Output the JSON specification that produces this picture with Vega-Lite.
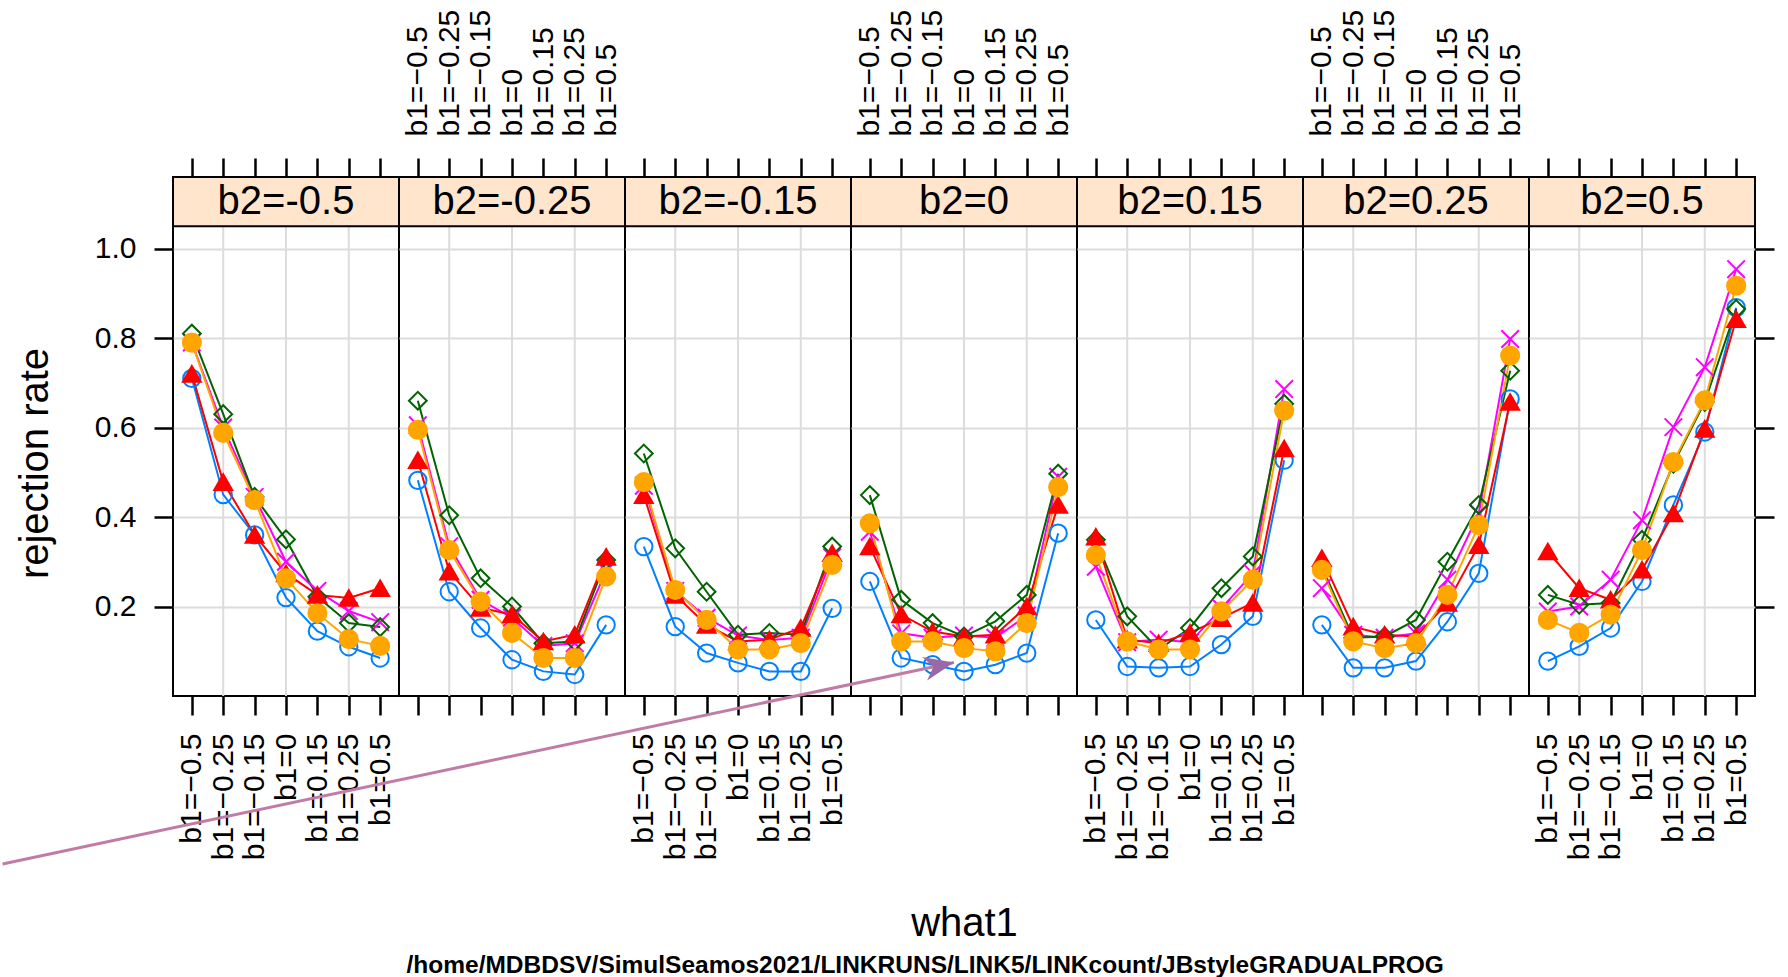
{
"$schema": "https://vega.github.io/schema/vega-lite/v6.json",
"padding": {"left": 0, "top": 8, "right": 0, "bottom": 0},
"bounds": "flush",
"spacing": 0,
"title": {"text": "/home/MDBDSV/SimulSeamos2021/LINKRUNS/LINK5/LINKcount/JBstyleGRADUALPROG", "orient": "bottom", "anchor": "middle", "dx": 37, "offset": 10, "fontSize": 24.5, "fontWeight": "bold", "font": "Liberation Sans", "color": "black"},
"config": {"view": {"stroke": "black", "strokeWidth": 2}, "font": "Liberation Sans", "axis": {"labelFont": "Liberation Sans", "titleFont": "Liberation Sans", "labelColor": "black", "titleColor": "black", "titleFontWeight": "normal"}, "concat": {"spacing": 0}},
"datasets": {
"grid": [{"b1": "b1=-0.25"}, {"b1": "b1=0"}, {"b1": "b1=0.25"}],
"rates": [
{"b2":"b2=-0.5","b1":"b1=-0.5","s":"1","r":0.71},{"b2":"b2=-0.5","b1":"b1=-0.25","s":"1","r":0.45},{"b2":"b2=-0.5","b1":"b1=-0.15","s":"1","r":0.36},{"b2":"b2=-0.5","b1":"b1=0","s":"1","r":0.22},{"b2":"b2=-0.5","b1":"b1=0.15","s":"1","r":0.145},{"b2":"b2=-0.5","b1":"b1=0.25","s":"1","r":0.11},{"b2":"b2=-0.5","b1":"b1=0.5","s":"1","r":0.085},
{"b2":"b2=-0.5","b1":"b1=-0.5","s":"2","r":0.79},{"b2":"b2=-0.5","b1":"b1=-0.25","s":"2","r":0.60},{"b2":"b2=-0.5","b1":"b1=-0.15","s":"2","r":0.445},{"b2":"b2=-0.5","b1":"b1=0","s":"2","r":0.30},{"b2":"b2=-0.5","b1":"b1=0.15","s":"2","r":0.235},{"b2":"b2=-0.5","b1":"b1=0.25","s":"2","r":0.19},{"b2":"b2=-0.5","b1":"b1=0.5","s":"2","r":0.165},
{"b2":"b2=-0.5","b1":"b1=-0.5","s":"3","r":0.81},{"b2":"b2=-0.5","b1":"b1=-0.25","s":"3","r":0.63},{"b2":"b2=-0.5","b1":"b1=-0.15","s":"3","r":0.445},{"b2":"b2=-0.5","b1":"b1=0","s":"3","r":0.35},{"b2":"b2=-0.5","b1":"b1=0.15","s":"3","r":0.222},{"b2":"b2=-0.5","b1":"b1=0.25","s":"3","r":0.163},{"b2":"b2=-0.5","b1":"b1=0.5","s":"3","r":0.154},
{"b2":"b2=-0.5","b1":"b1=-0.5","s":"4","r":0.72},{"b2":"b2=-0.5","b1":"b1=-0.25","s":"4","r":0.478},{"b2":"b2=-0.5","b1":"b1=-0.15","s":"4","r":0.36},{"b2":"b2=-0.5","b1":"b1=0","s":"4","r":0.274},{"b2":"b2=-0.5","b1":"b1=0.15","s":"4","r":0.226},{"b2":"b2=-0.5","b1":"b1=0.25","s":"4","r":0.219},{"b2":"b2=-0.5","b1":"b1=0.5","s":"4","r":0.241},
{"b2":"b2=-0.5","b1":"b1=-0.5","s":"5","r":0.79},{"b2":"b2=-0.5","b1":"b1=-0.25","s":"5","r":0.588},{"b2":"b2=-0.5","b1":"b1=-0.15","s":"5","r":0.438},{"b2":"b2=-0.5","b1":"b1=0","s":"5","r":0.263},{"b2":"b2=-0.5","b1":"b1=0.15","s":"5","r":0.185},{"b2":"b2=-0.5","b1":"b1=0.25","s":"5","r":0.127},{"b2":"b2=-0.5","b1":"b1=0.5","s":"5","r":0.112},

{"b2":"b2=-0.25","b1":"b1=-0.5","s":"1","r":0.482},{"b2":"b2=-0.25","b1":"b1=-0.25","s":"1","r":0.233},{"b2":"b2=-0.25","b1":"b1=-0.15","s":"1","r":0.152},{"b2":"b2=-0.25","b1":"b1=0","s":"1","r":0.081},{"b2":"b2=-0.25","b1":"b1=0.15","s":"1","r":0.055},{"b2":"b2=-0.25","b1":"b1=0.25","s":"1","r":0.048},{"b2":"b2=-0.25","b1":"b1=0.5","s":"1","r":0.159},
{"b2":"b2=-0.25","b1":"b1=-0.5","s":"2","r":0.605},{"b2":"b2=-0.25","b1":"b1=-0.25","s":"2","r":0.335},{"b2":"b2=-0.25","b1":"b1=-0.15","s":"2","r":0.215},{"b2":"b2=-0.25","b1":"b1=0","s":"2","r":0.175},{"b2":"b2=-0.25","b1":"b1=0.15","s":"2","r":0.112},{"b2":"b2=-0.25","b1":"b1=0.25","s":"2","r":0.118},{"b2":"b2=-0.25","b1":"b1=0.5","s":"2","r":0.28},
{"b2":"b2=-0.25","b1":"b1=-0.5","s":"3","r":0.66},{"b2":"b2=-0.25","b1":"b1=-0.25","s":"3","r":0.404},{"b2":"b2=-0.25","b1":"b1=-0.15","s":"3","r":0.263},{"b2":"b2=-0.25","b1":"b1=0","s":"3","r":0.20},{"b2":"b2=-0.25","b1":"b1=0.15","s":"3","r":0.118},{"b2":"b2=-0.25","b1":"b1=0.25","s":"3","r":0.122},{"b2":"b2=-0.25","b1":"b1=0.5","s":"3","r":0.304},
{"b2":"b2=-0.25","b1":"b1=-0.5","s":"4","r":0.527},{"b2":"b2=-0.25","b1":"b1=-0.25","s":"4","r":0.278},{"b2":"b2=-0.25","b1":"b1=-0.15","s":"4","r":0.197},{"b2":"b2=-0.25","b1":"b1=0","s":"4","r":0.182},{"b2":"b2=-0.25","b1":"b1=0.15","s":"4","r":0.122},{"b2":"b2=-0.25","b1":"b1=0.25","s":"4","r":0.137},{"b2":"b2=-0.25","b1":"b1=0.5","s":"4","r":0.311},
{"b2":"b2=-0.25","b1":"b1=-0.5","s":"5","r":0.595},{"b2":"b2=-0.25","b1":"b1=-0.25","s":"5","r":0.326},{"b2":"b2=-0.25","b1":"b1=-0.15","s":"5","r":0.211},{"b2":"b2=-0.25","b1":"b1=0","s":"5","r":0.141},{"b2":"b2=-0.25","b1":"b1=0.15","s":"5","r":0.085},{"b2":"b2=-0.25","b1":"b1=0.25","s":"5","r":0.085},{"b2":"b2=-0.25","b1":"b1=0.5","s":"5","r":0.267},

{"b2":"b2=-0.15","b1":"b1=-0.5","s":"1","r":0.334},{"b2":"b2=-0.15","b1":"b1=-0.25","s":"1","r":0.155},{"b2":"b2=-0.15","b1":"b1=-0.15","s":"1","r":0.096},{"b2":"b2=-0.15","b1":"b1=0","s":"1","r":0.074},{"b2":"b2=-0.15","b1":"b1=0.15","s":"1","r":0.055},{"b2":"b2=-0.15","b1":"b1=0.25","s":"1","r":0.055},{"b2":"b2=-0.15","b1":"b1=0.5","s":"1","r":0.196},
{"b2":"b2=-0.15","b1":"b1=-0.5","s":"2","r":0.47},{"b2":"b2=-0.15","b1":"b1=-0.25","s":"2","r":0.235},{"b2":"b2=-0.15","b1":"b1=-0.15","s":"2","r":0.175},{"b2":"b2=-0.15","b1":"b1=0","s":"2","r":0.135},{"b2":"b2=-0.15","b1":"b1=0.15","s":"2","r":0.125},{"b2":"b2=-0.15","b1":"b1=0.25","s":"2","r":0.13},{"b2":"b2=-0.15","b1":"b1=0.5","s":"2","r":0.31},
{"b2":"b2=-0.15","b1":"b1=-0.5","s":"3","r":0.542},{"b2":"b2=-0.15","b1":"b1=-0.25","s":"3","r":0.33},{"b2":"b2=-0.15","b1":"b1=-0.15","s":"3","r":0.233},{"b2":"b2=-0.15","b1":"b1=0","s":"3","r":0.137},{"b2":"b2=-0.15","b1":"b1=0.15","s":"3","r":0.141},{"b2":"b2=-0.15","b1":"b1=0.25","s":"3","r":0.137},{"b2":"b2=-0.15","b1":"b1=0.5","s":"3","r":0.334},
{"b2":"b2=-0.15","b1":"b1=-0.5","s":"4","r":0.449},{"b2":"b2=-0.15","b1":"b1=-0.25","s":"4","r":0.226},{"b2":"b2=-0.15","b1":"b1=-0.15","s":"4","r":0.159},{"b2":"b2=-0.15","b1":"b1=0","s":"4","r":0.122},{"b2":"b2=-0.15","b1":"b1=0.15","s":"4","r":0.126},{"b2":"b2=-0.15","b1":"b1=0.25","s":"4","r":0.152},{"b2":"b2=-0.15","b1":"b1=0.5","s":"4","r":0.319},
{"b2":"b2=-0.15","b1":"b1=-0.5","s":"5","r":0.478},{"b2":"b2=-0.15","b1":"b1=-0.25","s":"5","r":0.237},{"b2":"b2=-0.15","b1":"b1=-0.15","s":"5","r":0.17},{"b2":"b2=-0.15","b1":"b1=0","s":"5","r":0.104},{"b2":"b2=-0.15","b1":"b1=0.15","s":"5","r":0.104},{"b2":"b2=-0.15","b1":"b1=0.25","s":"5","r":0.118},{"b2":"b2=-0.15","b1":"b1=0.5","s":"5","r":0.293},

{"b2":"b2=0","b1":"b1=-0.5","s":"1","r":0.256},{"b2":"b2=0","b1":"b1=-0.25","s":"1","r":0.085},{"b2":"b2=0","b1":"b1=-0.15","s":"1","r":0.07},{"b2":"b2=0","b1":"b1=0","s":"1","r":0.055},{"b2":"b2=0","b1":"b1=0.15","s":"1","r":0.07},{"b2":"b2=0","b1":"b1=0.25","s":"1","r":0.096},{"b2":"b2=0","b1":"b1=0.5","s":"1","r":0.364},
{"b2":"b2=0","b1":"b1=-0.5","s":"2","r":0.367},{"b2":"b2=0","b1":"b1=-0.25","s":"2","r":0.14},{"b2":"b2=0","b1":"b1=-0.15","s":"2","r":0.13},{"b2":"b2=0","b1":"b1=0","s":"2","r":0.135},{"b2":"b2=0","b1":"b1=0.15","s":"2","r":0.13},{"b2":"b2=0","b1":"b1=0.25","s":"2","r":0.18},{"b2":"b2=0","b1":"b1=0.5","s":"2","r":0.49},
{"b2":"b2=0","b1":"b1=-0.5","s":"3","r":0.449},{"b2":"b2=0","b1":"b1=-0.25","s":"3","r":0.215},{"b2":"b2=0","b1":"b1=-0.15","s":"3","r":0.163},{"b2":"b2=0","b1":"b1=0","s":"3","r":0.133},{"b2":"b2=0","b1":"b1=0.15","s":"3","r":0.167},{"b2":"b2=0","b1":"b1=0.25","s":"3","r":0.226},{"b2":"b2=0","b1":"b1=0.5","s":"3","r":0.497},
{"b2":"b2=0","b1":"b1=-0.5","s":"4","r":0.334},{"b2":"b2=0","b1":"b1=-0.25","s":"4","r":0.182},{"b2":"b2=0","b1":"b1=-0.15","s":"4","r":0.144},{"b2":"b2=0","b1":"b1=0","s":"4","r":0.133},{"b2":"b2=0","b1":"b1=0.15","s":"4","r":0.137},{"b2":"b2=0","b1":"b1=0.25","s":"4","r":0.20},{"b2":"b2=0","b1":"b1=0.5","s":"4","r":0.427},
{"b2":"b2=0","b1":"b1=-0.5","s":"5","r":0.386},{"b2":"b2=0","b1":"b1=-0.25","s":"5","r":0.122},{"b2":"b2=0","b1":"b1=-0.15","s":"5","r":0.122},{"b2":"b2=0","b1":"b1=0","s":"5","r":0.107},{"b2":"b2=0","b1":"b1=0.15","s":"5","r":0.10},{"b2":"b2=0","b1":"b1=0.25","s":"5","r":0.163},{"b2":"b2=0","b1":"b1=0.5","s":"5","r":0.467},

{"b2":"b2=0.15","b1":"b1=-0.5","s":"1","r":0.17},{"b2":"b2=0.15","b1":"b1=-0.25","s":"1","r":0.066},{"b2":"b2=0.15","b1":"b1=-0.15","s":"1","r":0.063},{"b2":"b2=0.15","b1":"b1=0","s":"1","r":0.066},{"b2":"b2=0.15","b1":"b1=0.15","s":"1","r":0.115},{"b2":"b2=0.15","b1":"b1=0.25","s":"1","r":0.178},{"b2":"b2=0.15","b1":"b1=0.5","s":"1","r":0.527},
{"b2":"b2=0.15","b1":"b1=-0.5","s":"2","r":0.289},{"b2":"b2=0.15","b1":"b1=-0.25","s":"2","r":0.12},{"b2":"b2=0.15","b1":"b1=-0.15","s":"2","r":0.126},{"b2":"b2=0.15","b1":"b1=0","s":"2","r":0.12},{"b2":"b2=0.15","b1":"b1=0.15","s":"2","r":0.196},{"b2":"b2=0.15","b1":"b1=0.25","s":"2","r":0.274},{"b2":"b2=0.15","b1":"b1=0.5","s":"2","r":0.686},
{"b2":"b2=0.15","b1":"b1=-0.5","s":"3","r":0.349},{"b2":"b2=0.15","b1":"b1=-0.25","s":"3","r":0.178},{"b2":"b2=0.15","b1":"b1=-0.15","s":"3","r":0.104},{"b2":"b2=0.15","b1":"b1=0","s":"3","r":0.152},{"b2":"b2=0.15","b1":"b1=0.15","s":"3","r":0.241},{"b2":"b2=0.15","b1":"b1=0.25","s":"3","r":0.312},{"b2":"b2=0.15","b1":"b1=0.5","s":"3","r":0.653},
{"b2":"b2=0.15","b1":"b1=-0.5","s":"4","r":0.356},{"b2":"b2=0.15","b1":"b1=-0.25","s":"4","r":0.126},{"b2":"b2=0.15","b1":"b1=-0.15","s":"4","r":0.118},{"b2":"b2=0.15","b1":"b1=0","s":"4","r":0.141},{"b2":"b2=0.15","b1":"b1=0.15","s":"4","r":0.174},{"b2":"b2=0.15","b1":"b1=0.25","s":"4","r":0.208},{"b2":"b2=0.15","b1":"b1=0.5","s":"4","r":0.553},
{"b2":"b2=0.15","b1":"b1=-0.5","s":"5","r":0.315},{"b2":"b2=0.15","b1":"b1=-0.25","s":"5","r":0.122},{"b2":"b2=0.15","b1":"b1=-0.15","s":"5","r":0.104},{"b2":"b2=0.15","b1":"b1=0","s":"5","r":0.104},{"b2":"b2=0.15","b1":"b1=0.15","s":"5","r":0.189},{"b2":"b2=0.15","b1":"b1=0.25","s":"5","r":0.26},{"b2":"b2=0.15","b1":"b1=0.5","s":"5","r":0.638},

{"b2":"b2=0.25","b1":"b1=-0.5","s":"1","r":0.159},{"b2":"b2=0.25","b1":"b1=-0.25","s":"1","r":0.063},{"b2":"b2=0.25","b1":"b1=-0.15","s":"1","r":0.063},{"b2":"b2=0.25","b1":"b1=0","s":"1","r":0.078},{"b2":"b2=0.25","b1":"b1=0.15","s":"1","r":0.166},{"b2":"b2=0.25","b1":"b1=0.25","s":"1","r":0.274},{"b2":"b2=0.25","b1":"b1=0.5","s":"1","r":0.664},
{"b2":"b2=0.25","b1":"b1=-0.5","s":"2","r":0.241},{"b2":"b2=0.25","b1":"b1=-0.25","s":"2","r":0.137},{"b2":"b2=0.25","b1":"b1=-0.15","s":"2","r":0.13},{"b2":"b2=0.25","b1":"b1=0","s":"2","r":0.14},{"b2":"b2=0.25","b1":"b1=0.15","s":"2","r":0.26},{"b2":"b2=0.25","b1":"b1=0.25","s":"2","r":0.408},{"b2":"b2=0.25","b1":"b1=0.5","s":"2","r":0.798},
{"b2":"b2=0.25","b1":"b1=-0.5","s":"3","r":0.289},{"b2":"b2=0.25","b1":"b1=-0.25","s":"3","r":0.13},{"b2":"b2=0.25","b1":"b1=-0.15","s":"3","r":0.133},{"b2":"b2=0.25","b1":"b1=0","s":"3","r":0.17},{"b2":"b2=0.25","b1":"b1=0.15","s":"3","r":0.30},{"b2":"b2=0.25","b1":"b1=0.25","s":"3","r":0.427},{"b2":"b2=0.25","b1":"b1=0.5","s":"3","r":0.727},
{"b2":"b2=0.25","b1":"b1=-0.5","s":"4","r":0.308},{"b2":"b2=0.25","b1":"b1=-0.25","s":"4","r":0.155},{"b2":"b2=0.25","b1":"b1=-0.15","s":"4","r":0.137},{"b2":"b2=0.25","b1":"b1=0","s":"4","r":0.133},{"b2":"b2=0.25","b1":"b1=0.15","s":"4","r":0.208},{"b2":"b2=0.25","b1":"b1=0.25","s":"4","r":0.337},{"b2":"b2=0.25","b1":"b1=0.5","s":"4","r":0.657},
{"b2":"b2=0.25","b1":"b1=-0.5","s":"5","r":0.282},{"b2":"b2=0.25","b1":"b1=-0.25","s":"5","r":0.122},{"b2":"b2=0.25","b1":"b1=-0.15","s":"5","r":0.107},{"b2":"b2=0.25","b1":"b1=0","s":"5","r":0.118},{"b2":"b2=0.25","b1":"b1=0.15","s":"5","r":0.226},{"b2":"b2=0.25","b1":"b1=0.25","s":"5","r":0.382},{"b2":"b2=0.25","b1":"b1=0.5","s":"5","r":0.761},

{"b2":"b2=0.5","b1":"b1=-0.5","s":"1","r":0.078},{"b2":"b2=0.5","b1":"b1=-0.25","s":"1","r":0.111},{"b2":"b2=0.5","b1":"b1=-0.15","s":"1","r":0.152},{"b2":"b2=0.5","b1":"b1=0","s":"1","r":0.256},{"b2":"b2=0.5","b1":"b1=0.15","s":"1","r":0.427},{"b2":"b2=0.5","b1":"b1=0.25","s":"1","r":0.59},{"b2":"b2=0.5","b1":"b1=0.5","s":"1","r":0.868},
{"b2":"b2=0.5","b1":"b1=-0.5","s":"2","r":0.189},{"b2":"b2=0.5","b1":"b1=-0.25","s":"2","r":0.20},{"b2":"b2=0.5","b1":"b1=-0.15","s":"2","r":0.26},{"b2":"b2=0.5","b1":"b1=0","s":"2","r":0.393},{"b2":"b2=0.5","b1":"b1=0.15","s":"2","r":0.601},{"b2":"b2=0.5","b1":"b1=0.25","s":"2","r":0.735},{"b2":"b2=0.5","b1":"b1=0.5","s":"2","r":0.954},
{"b2":"b2=0.5","b1":"b1=-0.5","s":"3","r":0.226},{"b2":"b2=0.5","b1":"b1=-0.25","s":"3","r":0.204},{"b2":"b2=0.5","b1":"b1=-0.15","s":"3","r":0.208},{"b2":"b2=0.5","b1":"b1=0","s":"3","r":0.349},{"b2":"b2=0.5","b1":"b1=0.15","s":"3","r":0.519},{"b2":"b2=0.5","b1":"b1=0.25","s":"3","r":0.657},{"b2":"b2=0.5","b1":"b1=0.5","s":"3","r":0.865},
{"b2":"b2=0.5","b1":"b1=-0.5","s":"4","r":0.323},{"b2":"b2=0.5","b1":"b1=-0.25","s":"4","r":0.241},{"b2":"b2=0.5","b1":"b1=-0.15","s":"4","r":0.215},{"b2":"b2=0.5","b1":"b1=0","s":"4","r":0.282},{"b2":"b2=0.5","b1":"b1=0.15","s":"4","r":0.408},{"b2":"b2=0.5","b1":"b1=0.25","s":"4","r":0.597},{"b2":"b2=0.5","b1":"b1=0.5","s":"4","r":0.842},
{"b2":"b2=0.5","b1":"b1=-0.5","s":"5","r":0.17},{"b2":"b2=0.5","b1":"b1=-0.25","s":"5","r":0.141},{"b2":"b2=0.5","b1":"b1=-0.15","s":"5","r":0.182},{"b2":"b2=0.5","b1":"b1=0","s":"5","r":0.326},{"b2":"b2=0.5","b1":"b1=0.15","s":"5","r":0.523},{"b2":"b2=0.5","b1":"b1=0.25","s":"5","r":0.661},{"b2":"b2=0.5","b1":"b1=0.5","s":"5","r":0.917}
]
},
"hconcat": [
{"width": 226, "height": 519, "resolve": {"axis": {"x": "independent", "y": "independent"}},
 "layer": [
  {"data": {"name": "grid"}, "mark": {"type": "rule", "color": "#dcdcdc", "strokeWidth": 2},
   "encoding": {"x": {"field": "b1", "type": "nominal", "scale": {"type": "point", "domain": ["b1=-0.5","b1=-0.25","b1=-0.15","b1=0","b1=0.15","b1=0.25","b1=0.5"], "padding": 0.6}, "axis": {"orient": "top", "labels": false, "ticks": true, "tickSize": 19, "tickWidth": 2.5, "tickColor": "black", "domain": false, "grid": false, "title": null}},
    "y": {"datum": 0, "type": "quantitative", "scale": {"domain": [0, 1.16], "nice": false, "zero": false}, "axis": {"orient": "left", "values": [0.2,0.4,0.6,0.8,1.0], "format": ".1f", "grid": true, "gridColor": "#dcdcdc", "gridWidth": 2, "domain": false, "ticks": true, "tickSize": 19, "tickWidth": 2.5, "tickColor": "black", "labelFontSize": 30, "labelPadding": 18, "title": "rejection rate", "titleFontSize": 40, "titleAngle": 270, "titleX": -138, "titleY": 286, "titleAlign": "center", "titleBaseline": "middle"}},
    "y2": {"datum": 1.05}}},
  {"mark": {"type": "rule", "color": "#00ff00", "strokeWidth": 3.5, "strokeDash": [24, 17]},
   "encoding": {"y": {"datum": 0.1, "type": "quantitative", "scale": {"domain": [0, 1.16], "nice": false, "zero": false}, "axis": null}}},
  {"data": {"name": "rates"}, "transform": [{"filter": {"field": "b2", "equal": "b2=-0.5"}}], "mark": {"type": "line", "strokeWidth": 2},
   "encoding": {"x": {"field": "b1", "type": "nominal", "sort": ["b1=-0.5","b1=-0.25","b1=-0.15","b1=0","b1=0.15","b1=0.25","b1=0.5"], "scale": {"type": "point", "domain": ["b1=-0.5","b1=-0.25","b1=-0.15","b1=0","b1=0.15","b1=0.25","b1=0.5"], "padding": 0.6}, "axis": {"orient": "bottom", "labels": true, "labelAngle": 270, "labelFontSize": 30, "labelPadding": 18, "labelOverlap": false, "labelExpr": "replace(datum.label, '-', '\u2212')", "ticks": true, "tickSize": 19, "tickWidth": 2.5, "tickColor": "black", "domain": false, "grid": false, "title": null}},
    "y": {"field": "r", "type": "quantitative", "scale": {"domain": [0, 1.16], "nice": false, "zero": false}, "axis": null},
    "color": {"field": "s", "type": "nominal", "scale": {"domain": ["1","2","3","4","5"], "range": ["#0080ff","#ff00ff","#006400","#ff0000","#ffa500"]}, "legend": null}}},
  {"data": {"name": "rates"}, "transform": [{"filter": {"field": "b2", "equal": "b2=-0.5"}}], "mark": {"type": "point", "strokeWidth": 2, "opacity": 1},
   "encoding": {"x": {"field": "b1", "type": "nominal", "scale": {"type": "point", "domain": ["b1=-0.5","b1=-0.25","b1=-0.15","b1=0","b1=0.15","b1=0.25","b1=0.5"], "padding": 0.6}, "axis": null},
    "y": {"field": "r", "type": "quantitative", "scale": {"domain": [0, 1.16], "nice": false, "zero": false}, "axis": null},
    "shape": {"field": "s", "type": "nominal", "scale": {"domain": ["1","2","3","4","5"], "range": ["circle","M-1,-1L1,1M1,-1L-1,1","diamond","triangle-up","circle"]}, "legend": null},
    "size": {"field": "s", "type": "ordinal", "scale": {"domain": ["1","2","3","4","5"], "range": [300,330,720,500,360]}, "legend": null},
    "fill": {"field": "s", "type": "nominal", "scale": {"domain": ["1","2","3","4","5"], "range": ["transparent","transparent","transparent","#ff0000","#ffa500"]}, "legend": null},
    "stroke": {"field": "s", "type": "nominal", "scale": {"domain": ["1","2","3","4","5"], "range": ["#0080ff","#ff00ff","#006400","#ff0000","#ffa500"]}, "legend": null}}},
  {"data": {"values": [{"strip": "b2=-0.5"}]}, "mark": {"type": "rect", "fill": "#ffe5cc", "stroke": "black", "strokeWidth": 2},
   "encoding": {"x": {"value": 0}, "x2": {"value": "width"}, "y": {"datum": 1.05, "type": "quantitative", "scale": {"domain": [0, 1.16], "nice": false, "zero": false}, "axis": null}, "y2": {"datum": 1.16}}},
  {"data": {"values": [{"strip": "b2=-0.5"}]}, "mark": {"type": "text", "fontSize": 40, "font": "Liberation Sans", "color": "black", "baseline": "middle"},
   "encoding": {"x": {"datum": "b1=0", "type": "nominal", "scale": {"type": "point", "domain": ["b1=-0.5","b1=-0.25","b1=-0.15","b1=0","b1=0.15","b1=0.25","b1=0.5"], "padding": 0.6}, "axis": null}, "y": {"datum": 1.105, "type": "quantitative", "scale": {"domain": [0, 1.16], "nice": false, "zero": false}, "axis": null}, "text": {"field": "strip", "type": "nominal"}}}
 ]},
{"width": 226, "height": 519, "resolve": {"axis": {"x": "independent", "y": "independent"}},
 "layer": [
  {"data": {"name": "grid"}, "mark": {"type": "rule", "color": "#dcdcdc", "strokeWidth": 2},
   "encoding": {"x": {"field": "b1", "type": "nominal", "scale": {"type": "point", "domain": ["b1=-0.5","b1=-0.25","b1=-0.15","b1=0","b1=0.15","b1=0.25","b1=0.5"], "padding": 0.6}, "axis": {"orient": "top", "labels": true, "labelAngle": 270, "labelFontSize": 30, "labelPadding": 22, "labelOverlap": false, "labelExpr": "replace(datum.label, '-', '\u2212')", "ticks": true, "tickSize": 19, "tickWidth": 2.5, "tickColor": "black", "domain": false, "grid": false, "title": null}},
    "y": {"datum": 0, "type": "quantitative", "scale": {"domain": [0, 1.16], "nice": false, "zero": false}, "axis": {"orient": "left", "values": [0.2,0.4,0.6,0.8,1.0], "grid": true, "gridColor": "#dcdcdc", "gridWidth": 2, "domain": false, "ticks": false, "labels": false, "title": null}},
    "y2": {"datum": 1.05}}},
  {"mark": {"type": "rule", "color": "#00ff00", "strokeWidth": 3.5, "strokeDash": [24, 17]},
   "encoding": {"y": {"datum": 0.1, "type": "quantitative", "scale": {"domain": [0, 1.16], "nice": false, "zero": false}, "axis": null}}},
  {"data": {"name": "rates"}, "transform": [{"filter": {"field": "b2", "equal": "b2=-0.25"}}], "mark": {"type": "line", "strokeWidth": 2},
   "encoding": {"x": {"field": "b1", "type": "nominal", "sort": ["b1=-0.5","b1=-0.25","b1=-0.15","b1=0","b1=0.15","b1=0.25","b1=0.5"], "scale": {"type": "point", "domain": ["b1=-0.5","b1=-0.25","b1=-0.15","b1=0","b1=0.15","b1=0.25","b1=0.5"], "padding": 0.6}, "axis": {"orient": "bottom", "labels": false, "ticks": true, "tickSize": 19, "tickWidth": 2.5, "tickColor": "black", "domain": false, "grid": false, "title": null}},
    "y": {"field": "r", "type": "quantitative", "scale": {"domain": [0, 1.16], "nice": false, "zero": false}, "axis": null},
    "color": {"field": "s", "type": "nominal", "scale": {"domain": ["1","2","3","4","5"], "range": ["#0080ff","#ff00ff","#006400","#ff0000","#ffa500"]}, "legend": null}}},
  {"data": {"name": "rates"}, "transform": [{"filter": {"field": "b2", "equal": "b2=-0.25"}}], "mark": {"type": "point", "strokeWidth": 2, "opacity": 1},
   "encoding": {"x": {"field": "b1", "type": "nominal", "scale": {"type": "point", "domain": ["b1=-0.5","b1=-0.25","b1=-0.15","b1=0","b1=0.15","b1=0.25","b1=0.5"], "padding": 0.6}, "axis": null},
    "y": {"field": "r", "type": "quantitative", "scale": {"domain": [0, 1.16], "nice": false, "zero": false}, "axis": null},
    "shape": {"field": "s", "type": "nominal", "scale": {"domain": ["1","2","3","4","5"], "range": ["circle","M-1,-1L1,1M1,-1L-1,1","diamond","triangle-up","circle"]}, "legend": null},
    "size": {"field": "s", "type": "ordinal", "scale": {"domain": ["1","2","3","4","5"], "range": [300,330,720,500,360]}, "legend": null},
    "fill": {"field": "s", "type": "nominal", "scale": {"domain": ["1","2","3","4","5"], "range": ["transparent","transparent","transparent","#ff0000","#ffa500"]}, "legend": null},
    "stroke": {"field": "s", "type": "nominal", "scale": {"domain": ["1","2","3","4","5"], "range": ["#0080ff","#ff00ff","#006400","#ff0000","#ffa500"]}, "legend": null}}},
  {"data": {"values": [{"strip": "b2=-0.25"}]}, "mark": {"type": "rect", "fill": "#ffe5cc", "stroke": "black", "strokeWidth": 2},
   "encoding": {"x": {"value": 0}, "x2": {"value": "width"}, "y": {"datum": 1.05, "type": "quantitative", "scale": {"domain": [0, 1.16], "nice": false, "zero": false}, "axis": null}, "y2": {"datum": 1.16}}},
  {"data": {"values": [{"strip": "b2=-0.25"}]}, "mark": {"type": "text", "fontSize": 40, "font": "Liberation Sans", "color": "black", "baseline": "middle"},
   "encoding": {"x": {"datum": "b1=0", "type": "nominal", "scale": {"type": "point", "domain": ["b1=-0.5","b1=-0.25","b1=-0.15","b1=0","b1=0.15","b1=0.25","b1=0.5"], "padding": 0.6}, "axis": null}, "y": {"datum": 1.105, "type": "quantitative", "scale": {"domain": [0, 1.16], "nice": false, "zero": false}, "axis": null}, "text": {"field": "strip", "type": "nominal"}}}
 ]},
{"width": 226, "height": 519, "resolve": {"axis": {"x": "independent", "y": "independent"}},
 "layer": [
  {"data": {"name": "grid"}, "mark": {"type": "rule", "color": "#dcdcdc", "strokeWidth": 2},
   "encoding": {"x": {"field": "b1", "type": "nominal", "scale": {"type": "point", "domain": ["b1=-0.5","b1=-0.25","b1=-0.15","b1=0","b1=0.15","b1=0.25","b1=0.5"], "padding": 0.6}, "axis": {"orient": "top", "labels": false, "ticks": true, "tickSize": 19, "tickWidth": 2.5, "tickColor": "black", "domain": false, "grid": false, "title": null}},
    "y": {"datum": 0, "type": "quantitative", "scale": {"domain": [0, 1.16], "nice": false, "zero": false}, "axis": {"orient": "left", "values": [0.2,0.4,0.6,0.8,1.0], "grid": true, "gridColor": "#dcdcdc", "gridWidth": 2, "domain": false, "ticks": false, "labels": false, "title": null}},
    "y2": {"datum": 1.05}}},
  {"mark": {"type": "rule", "color": "#00ff00", "strokeWidth": 3.5, "strokeDash": [24, 17]},
   "encoding": {"y": {"datum": 0.1, "type": "quantitative", "scale": {"domain": [0, 1.16], "nice": false, "zero": false}, "axis": null}}},
  {"data": {"name": "rates"}, "transform": [{"filter": {"field": "b2", "equal": "b2=-0.15"}}], "mark": {"type": "line", "strokeWidth": 2},
   "encoding": {"x": {"field": "b1", "type": "nominal", "sort": ["b1=-0.5","b1=-0.25","b1=-0.15","b1=0","b1=0.15","b1=0.25","b1=0.5"], "scale": {"type": "point", "domain": ["b1=-0.5","b1=-0.25","b1=-0.15","b1=0","b1=0.15","b1=0.25","b1=0.5"], "padding": 0.6}, "axis": {"orient": "bottom", "labels": true, "labelAngle": 270, "labelFontSize": 30, "labelPadding": 18, "labelOverlap": false, "labelExpr": "replace(datum.label, '-', '\u2212')", "ticks": true, "tickSize": 19, "tickWidth": 2.5, "tickColor": "black", "domain": false, "grid": false, "title": null}},
    "y": {"field": "r", "type": "quantitative", "scale": {"domain": [0, 1.16], "nice": false, "zero": false}, "axis": null},
    "color": {"field": "s", "type": "nominal", "scale": {"domain": ["1","2","3","4","5"], "range": ["#0080ff","#ff00ff","#006400","#ff0000","#ffa500"]}, "legend": null}}},
  {"data": {"name": "rates"}, "transform": [{"filter": {"field": "b2", "equal": "b2=-0.15"}}], "mark": {"type": "point", "strokeWidth": 2, "opacity": 1},
   "encoding": {"x": {"field": "b1", "type": "nominal", "scale": {"type": "point", "domain": ["b1=-0.5","b1=-0.25","b1=-0.15","b1=0","b1=0.15","b1=0.25","b1=0.5"], "padding": 0.6}, "axis": null},
    "y": {"field": "r", "type": "quantitative", "scale": {"domain": [0, 1.16], "nice": false, "zero": false}, "axis": null},
    "shape": {"field": "s", "type": "nominal", "scale": {"domain": ["1","2","3","4","5"], "range": ["circle","M-1,-1L1,1M1,-1L-1,1","diamond","triangle-up","circle"]}, "legend": null},
    "size": {"field": "s", "type": "ordinal", "scale": {"domain": ["1","2","3","4","5"], "range": [300,330,720,500,360]}, "legend": null},
    "fill": {"field": "s", "type": "nominal", "scale": {"domain": ["1","2","3","4","5"], "range": ["transparent","transparent","transparent","#ff0000","#ffa500"]}, "legend": null},
    "stroke": {"field": "s", "type": "nominal", "scale": {"domain": ["1","2","3","4","5"], "range": ["#0080ff","#ff00ff","#006400","#ff0000","#ffa500"]}, "legend": null}}},
  {"data": {"values": [{"strip": "b2=-0.15"}]}, "mark": {"type": "rect", "fill": "#ffe5cc", "stroke": "black", "strokeWidth": 2},
   "encoding": {"x": {"value": 0}, "x2": {"value": "width"}, "y": {"datum": 1.05, "type": "quantitative", "scale": {"domain": [0, 1.16], "nice": false, "zero": false}, "axis": null}, "y2": {"datum": 1.16}}},
  {"data": {"values": [{"strip": "b2=-0.15"}]}, "mark": {"type": "text", "fontSize": 40, "font": "Liberation Sans", "color": "black", "baseline": "middle"},
   "encoding": {"x": {"datum": "b1=0", "type": "nominal", "scale": {"type": "point", "domain": ["b1=-0.5","b1=-0.25","b1=-0.15","b1=0","b1=0.15","b1=0.25","b1=0.5"], "padding": 0.6}, "axis": null}, "y": {"datum": 1.105, "type": "quantitative", "scale": {"domain": [0, 1.16], "nice": false, "zero": false}, "axis": null}, "text": {"field": "strip", "type": "nominal"}}}
 ]},
{"width": 226, "height": 519, "resolve": {"axis": {"x": "independent", "y": "independent"}, "scale": {"x": "independent"}},
 "layer": [
  {"data": {"name": "grid"}, "mark": {"type": "rule", "color": "#dcdcdc", "strokeWidth": 2},
   "encoding": {"x": {"field": "b1", "type": "nominal", "scale": {"type": "point", "domain": ["b1=-0.5","b1=-0.25","b1=-0.15","b1=0","b1=0.15","b1=0.25","b1=0.5"], "padding": 0.6}, "axis": {"orient": "top", "labels": true, "labelAngle": 270, "labelFontSize": 30, "labelPadding": 22, "labelOverlap": false, "labelExpr": "replace(datum.label, '-', '\u2212')", "ticks": true, "tickSize": 19, "tickWidth": 2.5, "tickColor": "black", "domain": false, "grid": false, "title": null}},
    "y": {"datum": 0, "type": "quantitative", "scale": {"domain": [0, 1.16], "nice": false, "zero": false}, "axis": {"orient": "left", "values": [0.2,0.4,0.6,0.8,1.0], "grid": true, "gridColor": "#dcdcdc", "gridWidth": 2, "domain": false, "ticks": false, "labels": false, "title": null}},
    "y2": {"datum": 1.05}}},
  {"mark": {"type": "rule", "color": "#00ff00", "strokeWidth": 3.5, "strokeDash": [24, 17]},
   "encoding": {"y": {"datum": 0.1, "type": "quantitative", "scale": {"domain": [0, 1.16], "nice": false, "zero": false}, "axis": null}}},
  {"data": {"name": "rates"}, "transform": [{"filter": {"field": "b2", "equal": "b2=0"}}], "mark": {"type": "line", "strokeWidth": 2},
   "encoding": {"x": {"field": "b1", "type": "nominal", "sort": ["b1=-0.5","b1=-0.25","b1=-0.15","b1=0","b1=0.15","b1=0.25","b1=0.5"], "scale": {"type": "point", "domain": ["b1=-0.5","b1=-0.25","b1=-0.15","b1=0","b1=0.15","b1=0.25","b1=0.5"], "padding": 0.6}, "axis": {"orient": "bottom", "labels": false, "ticks": true, "tickSize": 19, "tickWidth": 2.5, "tickColor": "black", "domain": false, "grid": false, "title": "what1", "titleFontSize": 40, "titleFontWeight": "normal", "titleY": 239, "titleBaseline": "alphabetic"}},
    "y": {"field": "r", "type": "quantitative", "scale": {"domain": [0, 1.16], "nice": false, "zero": false}, "axis": null},
    "color": {"field": "s", "type": "nominal", "scale": {"domain": ["1","2","3","4","5"], "range": ["#0080ff","#ff00ff","#006400","#ff0000","#ffa500"]}, "legend": null}}},
  {"data": {"name": "rates"}, "transform": [{"filter": {"field": "b2", "equal": "b2=0"}}], "mark": {"type": "point", "strokeWidth": 2, "opacity": 1},
   "encoding": {"x": {"field": "b1", "type": "nominal", "scale": {"type": "point", "domain": ["b1=-0.5","b1=-0.25","b1=-0.15","b1=0","b1=0.15","b1=0.25","b1=0.5"], "padding": 0.6}, "axis": null},
    "y": {"field": "r", "type": "quantitative", "scale": {"domain": [0, 1.16], "nice": false, "zero": false}, "axis": null},
    "shape": {"field": "s", "type": "nominal", "scale": {"domain": ["1","2","3","4","5"], "range": ["circle","M-1,-1L1,1M1,-1L-1,1","diamond","triangle-up","circle"]}, "legend": null},
    "size": {"field": "s", "type": "ordinal", "scale": {"domain": ["1","2","3","4","5"], "range": [300,330,720,500,360]}, "legend": null},
    "fill": {"field": "s", "type": "nominal", "scale": {"domain": ["1","2","3","4","5"], "range": ["transparent","transparent","transparent","#ff0000","#ffa500"]}, "legend": null},
    "stroke": {"field": "s", "type": "nominal", "scale": {"domain": ["1","2","3","4","5"], "range": ["#0080ff","#ff00ff","#006400","#ff0000","#ffa500"]}, "legend": null}}},
  {"data": {"values": [{"strip": "b2=0"}]}, "mark": {"type": "rect", "fill": "#ffe5cc", "stroke": "black", "strokeWidth": 2},
   "encoding": {"x": {"value": 0}, "x2": {"value": "width"}, "y": {"datum": 1.05, "type": "quantitative", "scale": {"domain": [0, 1.16], "nice": false, "zero": false}, "axis": null}, "y2": {"datum": 1.16}}},
  {"data": {"values": [{"strip": "b2=0"}]}, "mark": {"type": "text", "fontSize": 40, "font": "Liberation Sans", "color": "black", "baseline": "middle"},
   "encoding": {"x": {"datum": "b1=0", "type": "nominal", "scale": {"type": "point", "domain": ["b1=-0.5","b1=-0.25","b1=-0.15","b1=0","b1=0.15","b1=0.25","b1=0.5"], "padding": 0.6}, "axis": null}, "y": {"datum": 1.105, "type": "quantitative", "scale": {"domain": [0, 1.16], "nice": false, "zero": false}, "axis": null}, "text": {"field": "strip", "type": "nominal"}}},
  {"data": {"values": [{"ax": -26.63, "ay": -0.3755, "ax2": 3.681, "ay2": 0.0749}]}, "mark": {"type": "rule", "color": "#c07ca6", "strokeWidth": 3},
   "encoding": {"x": {"field": "ax", "type": "quantitative", "scale": {"domain": [0.4, 7.6], "nice": false, "zero": false}, "axis": null}, "x2": {"field": "ax2"}, "y": {"field": "ay", "type": "quantitative", "scale": {"domain": [0, 1.16], "nice": false, "zero": false}, "axis": null}, "y2": {"field": "ay2"}}},
  {"data": {"values": [{"ax": -26.63, "ay": -0.3755, "ax2": 3.681, "ay2": 0.0749}]}, "mark": {"type": "point", "shape": "M0,0L-2,-0.8L-1.4,0L-2,0.8Z", "filled": true, "color": "#9a6aa8", "size": 900, "angle": 348.06, "opacity": 1},
   "encoding": {"x": {"field": "ax2", "type": "quantitative", "scale": {"domain": [0.4, 7.6], "nice": false, "zero": false}, "axis": null}, "y": {"field": "ay2", "type": "quantitative", "scale": {"domain": [0, 1.16], "nice": false, "zero": false}, "axis": null}}}
 ]},
{"width": 226, "height": 519, "resolve": {"axis": {"x": "independent", "y": "independent"}},
 "layer": [
  {"data": {"name": "grid"}, "mark": {"type": "rule", "color": "#dcdcdc", "strokeWidth": 2},
   "encoding": {"x": {"field": "b1", "type": "nominal", "scale": {"type": "point", "domain": ["b1=-0.5","b1=-0.25","b1=-0.15","b1=0","b1=0.15","b1=0.25","b1=0.5"], "padding": 0.6}, "axis": {"orient": "top", "labels": false, "ticks": true, "tickSize": 19, "tickWidth": 2.5, "tickColor": "black", "domain": false, "grid": false, "title": null}},
    "y": {"datum": 0, "type": "quantitative", "scale": {"domain": [0, 1.16], "nice": false, "zero": false}, "axis": {"orient": "left", "values": [0.2,0.4,0.6,0.8,1.0], "grid": true, "gridColor": "#dcdcdc", "gridWidth": 2, "domain": false, "ticks": false, "labels": false, "title": null}},
    "y2": {"datum": 1.05}}},
  {"mark": {"type": "rule", "color": "#00ff00", "strokeWidth": 3.5, "strokeDash": [24, 17]},
   "encoding": {"y": {"datum": 0.1, "type": "quantitative", "scale": {"domain": [0, 1.16], "nice": false, "zero": false}, "axis": null}}},
  {"data": {"name": "rates"}, "transform": [{"filter": {"field": "b2", "equal": "b2=0.15"}}], "mark": {"type": "line", "strokeWidth": 2},
   "encoding": {"x": {"field": "b1", "type": "nominal", "sort": ["b1=-0.5","b1=-0.25","b1=-0.15","b1=0","b1=0.15","b1=0.25","b1=0.5"], "scale": {"type": "point", "domain": ["b1=-0.5","b1=-0.25","b1=-0.15","b1=0","b1=0.15","b1=0.25","b1=0.5"], "padding": 0.6}, "axis": {"orient": "bottom", "labels": true, "labelAngle": 270, "labelFontSize": 30, "labelPadding": 18, "labelOverlap": false, "labelExpr": "replace(datum.label, '-', '\u2212')", "ticks": true, "tickSize": 19, "tickWidth": 2.5, "tickColor": "black", "domain": false, "grid": false, "title": null}},
    "y": {"field": "r", "type": "quantitative", "scale": {"domain": [0, 1.16], "nice": false, "zero": false}, "axis": null},
    "color": {"field": "s", "type": "nominal", "scale": {"domain": ["1","2","3","4","5"], "range": ["#0080ff","#ff00ff","#006400","#ff0000","#ffa500"]}, "legend": null}}},
  {"data": {"name": "rates"}, "transform": [{"filter": {"field": "b2", "equal": "b2=0.15"}}], "mark": {"type": "point", "strokeWidth": 2, "opacity": 1},
   "encoding": {"x": {"field": "b1", "type": "nominal", "scale": {"type": "point", "domain": ["b1=-0.5","b1=-0.25","b1=-0.15","b1=0","b1=0.15","b1=0.25","b1=0.5"], "padding": 0.6}, "axis": null},
    "y": {"field": "r", "type": "quantitative", "scale": {"domain": [0, 1.16], "nice": false, "zero": false}, "axis": null},
    "shape": {"field": "s", "type": "nominal", "scale": {"domain": ["1","2","3","4","5"], "range": ["circle","M-1,-1L1,1M1,-1L-1,1","diamond","triangle-up","circle"]}, "legend": null},
    "size": {"field": "s", "type": "ordinal", "scale": {"domain": ["1","2","3","4","5"], "range": [300,330,720,500,360]}, "legend": null},
    "fill": {"field": "s", "type": "nominal", "scale": {"domain": ["1","2","3","4","5"], "range": ["transparent","transparent","transparent","#ff0000","#ffa500"]}, "legend": null},
    "stroke": {"field": "s", "type": "nominal", "scale": {"domain": ["1","2","3","4","5"], "range": ["#0080ff","#ff00ff","#006400","#ff0000","#ffa500"]}, "legend": null}}},
  {"data": {"values": [{"strip": "b2=0.15"}]}, "mark": {"type": "rect", "fill": "#ffe5cc", "stroke": "black", "strokeWidth": 2},
   "encoding": {"x": {"value": 0}, "x2": {"value": "width"}, "y": {"datum": 1.05, "type": "quantitative", "scale": {"domain": [0, 1.16], "nice": false, "zero": false}, "axis": null}, "y2": {"datum": 1.16}}},
  {"data": {"values": [{"strip": "b2=0.15"}]}, "mark": {"type": "text", "fontSize": 40, "font": "Liberation Sans", "color": "black", "baseline": "middle"},
   "encoding": {"x": {"datum": "b1=0", "type": "nominal", "scale": {"type": "point", "domain": ["b1=-0.5","b1=-0.25","b1=-0.15","b1=0","b1=0.15","b1=0.25","b1=0.5"], "padding": 0.6}, "axis": null}, "y": {"datum": 1.105, "type": "quantitative", "scale": {"domain": [0, 1.16], "nice": false, "zero": false}, "axis": null}, "text": {"field": "strip", "type": "nominal"}}}
 ]},
{"width": 226, "height": 519, "resolve": {"axis": {"x": "independent", "y": "independent"}},
 "layer": [
  {"data": {"name": "grid"}, "mark": {"type": "rule", "color": "#dcdcdc", "strokeWidth": 2},
   "encoding": {"x": {"field": "b1", "type": "nominal", "scale": {"type": "point", "domain": ["b1=-0.5","b1=-0.25","b1=-0.15","b1=0","b1=0.15","b1=0.25","b1=0.5"], "padding": 0.6}, "axis": {"orient": "top", "labels": true, "labelAngle": 270, "labelFontSize": 30, "labelPadding": 22, "labelOverlap": false, "labelExpr": "replace(datum.label, '-', '\u2212')", "ticks": true, "tickSize": 19, "tickWidth": 2.5, "tickColor": "black", "domain": false, "grid": false, "title": null}},
    "y": {"datum": 0, "type": "quantitative", "scale": {"domain": [0, 1.16], "nice": false, "zero": false}, "axis": {"orient": "left", "values": [0.2,0.4,0.6,0.8,1.0], "grid": true, "gridColor": "#dcdcdc", "gridWidth": 2, "domain": false, "ticks": false, "labels": false, "title": null}},
    "y2": {"datum": 1.05}}},
  {"mark": {"type": "rule", "color": "#00ff00", "strokeWidth": 3.5, "strokeDash": [24, 17]},
   "encoding": {"y": {"datum": 0.1, "type": "quantitative", "scale": {"domain": [0, 1.16], "nice": false, "zero": false}, "axis": null}}},
  {"data": {"name": "rates"}, "transform": [{"filter": {"field": "b2", "equal": "b2=0.25"}}], "mark": {"type": "line", "strokeWidth": 2},
   "encoding": {"x": {"field": "b1", "type": "nominal", "sort": ["b1=-0.5","b1=-0.25","b1=-0.15","b1=0","b1=0.15","b1=0.25","b1=0.5"], "scale": {"type": "point", "domain": ["b1=-0.5","b1=-0.25","b1=-0.15","b1=0","b1=0.15","b1=0.25","b1=0.5"], "padding": 0.6}, "axis": {"orient": "bottom", "labels": false, "ticks": true, "tickSize": 19, "tickWidth": 2.5, "tickColor": "black", "domain": false, "grid": false, "title": null}},
    "y": {"field": "r", "type": "quantitative", "scale": {"domain": [0, 1.16], "nice": false, "zero": false}, "axis": null},
    "color": {"field": "s", "type": "nominal", "scale": {"domain": ["1","2","3","4","5"], "range": ["#0080ff","#ff00ff","#006400","#ff0000","#ffa500"]}, "legend": null}}},
  {"data": {"name": "rates"}, "transform": [{"filter": {"field": "b2", "equal": "b2=0.25"}}], "mark": {"type": "point", "strokeWidth": 2, "opacity": 1},
   "encoding": {"x": {"field": "b1", "type": "nominal", "scale": {"type": "point", "domain": ["b1=-0.5","b1=-0.25","b1=-0.15","b1=0","b1=0.15","b1=0.25","b1=0.5"], "padding": 0.6}, "axis": null},
    "y": {"field": "r", "type": "quantitative", "scale": {"domain": [0, 1.16], "nice": false, "zero": false}, "axis": null},
    "shape": {"field": "s", "type": "nominal", "scale": {"domain": ["1","2","3","4","5"], "range": ["circle","M-1,-1L1,1M1,-1L-1,1","diamond","triangle-up","circle"]}, "legend": null},
    "size": {"field": "s", "type": "ordinal", "scale": {"domain": ["1","2","3","4","5"], "range": [300,330,720,500,360]}, "legend": null},
    "fill": {"field": "s", "type": "nominal", "scale": {"domain": ["1","2","3","4","5"], "range": ["transparent","transparent","transparent","#ff0000","#ffa500"]}, "legend": null},
    "stroke": {"field": "s", "type": "nominal", "scale": {"domain": ["1","2","3","4","5"], "range": ["#0080ff","#ff00ff","#006400","#ff0000","#ffa500"]}, "legend": null}}},
  {"data": {"values": [{"strip": "b2=0.25"}]}, "mark": {"type": "rect", "fill": "#ffe5cc", "stroke": "black", "strokeWidth": 2},
   "encoding": {"x": {"value": 0}, "x2": {"value": "width"}, "y": {"datum": 1.05, "type": "quantitative", "scale": {"domain": [0, 1.16], "nice": false, "zero": false}, "axis": null}, "y2": {"datum": 1.16}}},
  {"data": {"values": [{"strip": "b2=0.25"}]}, "mark": {"type": "text", "fontSize": 40, "font": "Liberation Sans", "color": "black", "baseline": "middle"},
   "encoding": {"x": {"datum": "b1=0", "type": "nominal", "scale": {"type": "point", "domain": ["b1=-0.5","b1=-0.25","b1=-0.15","b1=0","b1=0.15","b1=0.25","b1=0.5"], "padding": 0.6}, "axis": null}, "y": {"datum": 1.105, "type": "quantitative", "scale": {"domain": [0, 1.16], "nice": false, "zero": false}, "axis": null}, "text": {"field": "strip", "type": "nominal"}}}
 ]},
{"width": 226, "height": 519, "resolve": {"axis": {"x": "independent", "y": "independent"}},
 "layer": [
  {"data": {"name": "grid"}, "mark": {"type": "rule", "color": "#dcdcdc", "strokeWidth": 2},
   "encoding": {"x": {"field": "b1", "type": "nominal", "scale": {"type": "point", "domain": ["b1=-0.5","b1=-0.25","b1=-0.15","b1=0","b1=0.15","b1=0.25","b1=0.5"], "padding": 0.6}, "axis": {"orient": "top", "labels": false, "ticks": true, "tickSize": 19, "tickWidth": 2.5, "tickColor": "black", "domain": false, "grid": false, "title": null}},
    "y": {"datum": 0, "type": "quantitative", "scale": {"domain": [0, 1.16], "nice": false, "zero": false}, "axis": {"orient": "right", "values": [0.2,0.4,0.6,0.8,1.0], "grid": true, "gridColor": "#dcdcdc", "gridWidth": 2, "domain": false, "ticks": true, "tickSize": 19, "tickWidth": 2.5, "tickColor": "black", "labels": false, "title": null}},
    "y2": {"datum": 1.05}}},
  {"mark": {"type": "rule", "color": "#00ff00", "strokeWidth": 3.5, "strokeDash": [24, 17]},
   "encoding": {"y": {"datum": 0.1, "type": "quantitative", "scale": {"domain": [0, 1.16], "nice": false, "zero": false}, "axis": null}}},
  {"data": {"name": "rates"}, "transform": [{"filter": {"field": "b2", "equal": "b2=0.5"}}], "mark": {"type": "line", "strokeWidth": 2},
   "encoding": {"x": {"field": "b1", "type": "nominal", "sort": ["b1=-0.5","b1=-0.25","b1=-0.15","b1=0","b1=0.15","b1=0.25","b1=0.5"], "scale": {"type": "point", "domain": ["b1=-0.5","b1=-0.25","b1=-0.15","b1=0","b1=0.15","b1=0.25","b1=0.5"], "padding": 0.6}, "axis": {"orient": "bottom", "labels": true, "labelAngle": 270, "labelFontSize": 30, "labelPadding": 18, "labelOverlap": false, "labelExpr": "replace(datum.label, '-', '\u2212')", "ticks": true, "tickSize": 19, "tickWidth": 2.5, "tickColor": "black", "domain": false, "grid": false, "title": null}},
    "y": {"field": "r", "type": "quantitative", "scale": {"domain": [0, 1.16], "nice": false, "zero": false}, "axis": null},
    "color": {"field": "s", "type": "nominal", "scale": {"domain": ["1","2","3","4","5"], "range": ["#0080ff","#ff00ff","#006400","#ff0000","#ffa500"]}, "legend": null}}},
  {"data": {"name": "rates"}, "transform": [{"filter": {"field": "b2", "equal": "b2=0.5"}}], "mark": {"type": "point", "strokeWidth": 2, "opacity": 1},
   "encoding": {"x": {"field": "b1", "type": "nominal", "scale": {"type": "point", "domain": ["b1=-0.5","b1=-0.25","b1=-0.15","b1=0","b1=0.15","b1=0.25","b1=0.5"], "padding": 0.6}, "axis": null},
    "y": {"field": "r", "type": "quantitative", "scale": {"domain": [0, 1.16], "nice": false, "zero": false}, "axis": null},
    "shape": {"field": "s", "type": "nominal", "scale": {"domain": ["1","2","3","4","5"], "range": ["circle","M-1,-1L1,1M1,-1L-1,1","diamond","triangle-up","circle"]}, "legend": null},
    "size": {"field": "s", "type": "ordinal", "scale": {"domain": ["1","2","3","4","5"], "range": [300,330,720,500,360]}, "legend": null},
    "fill": {"field": "s", "type": "nominal", "scale": {"domain": ["1","2","3","4","5"], "range": ["transparent","transparent","transparent","#ff0000","#ffa500"]}, "legend": null},
    "stroke": {"field": "s", "type": "nominal", "scale": {"domain": ["1","2","3","4","5"], "range": ["#0080ff","#ff00ff","#006400","#ff0000","#ffa500"]}, "legend": null}}},
  {"data": {"values": [{"strip": "b2=0.5"}]}, "mark": {"type": "rect", "fill": "#ffe5cc", "stroke": "black", "strokeWidth": 2},
   "encoding": {"x": {"value": 0}, "x2": {"value": "width"}, "y": {"datum": 1.05, "type": "quantitative", "scale": {"domain": [0, 1.16], "nice": false, "zero": false}, "axis": null}, "y2": {"datum": 1.16}}},
  {"data": {"values": [{"strip": "b2=0.5"}]}, "mark": {"type": "text", "fontSize": 40, "font": "Liberation Sans", "color": "black", "baseline": "middle"},
   "encoding": {"x": {"datum": "b1=0", "type": "nominal", "scale": {"type": "point", "domain": ["b1=-0.5","b1=-0.25","b1=-0.15","b1=0","b1=0.15","b1=0.25","b1=0.5"], "padding": 0.6}, "axis": null}, "y": {"datum": 1.105, "type": "quantitative", "scale": {"domain": [0, 1.16], "nice": false, "zero": false}, "axis": null}, "text": {"field": "strip", "type": "nominal"}}}
 ]}
]
}
